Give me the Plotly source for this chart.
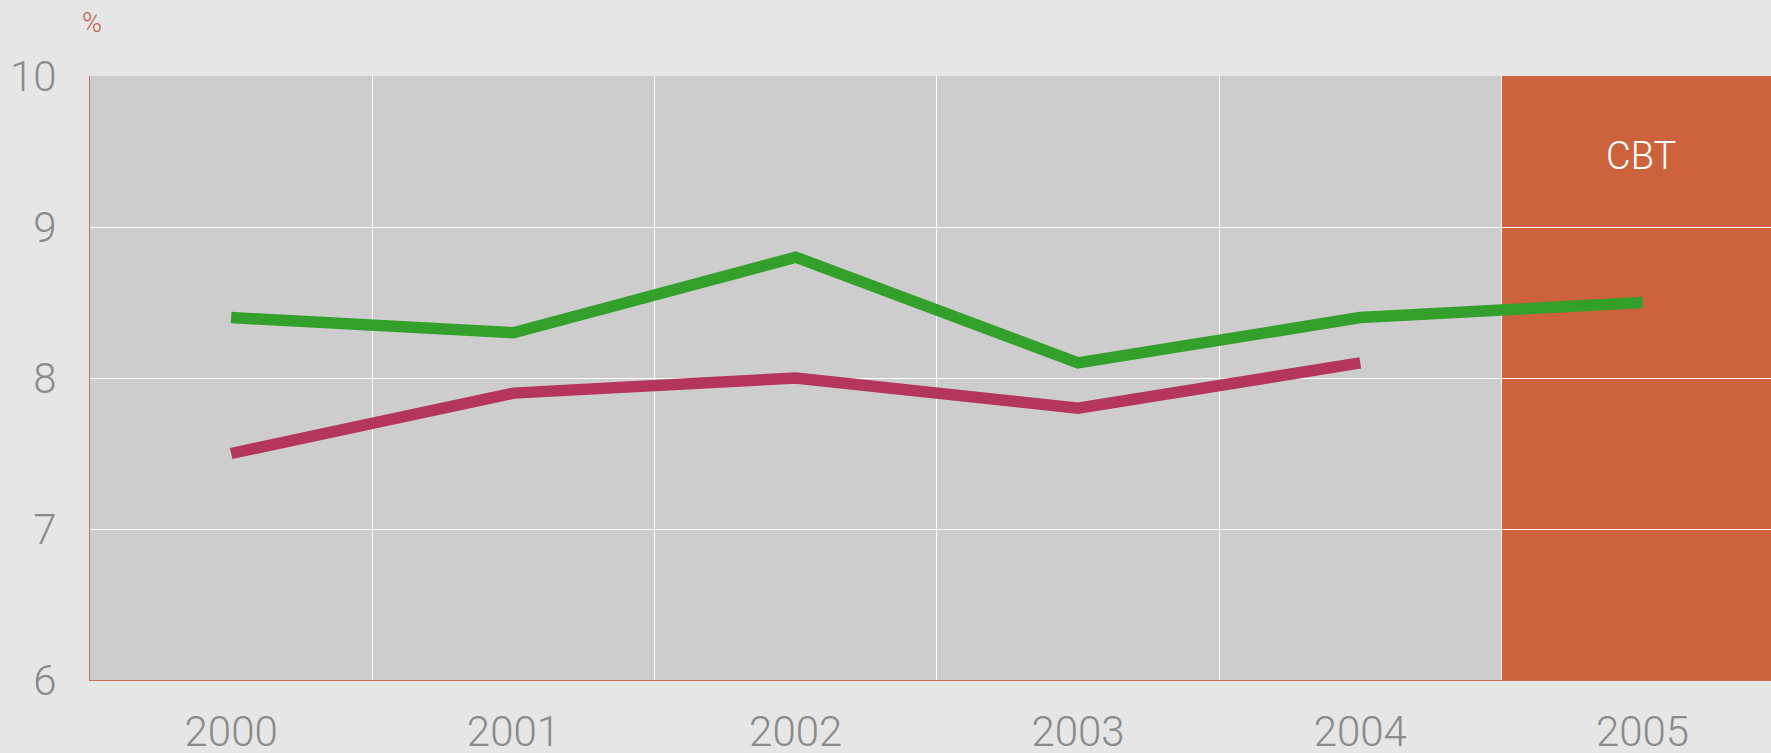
import plotly.graph_objects as go

years = ["2000", "2001", "2002", "2003", "2004", "2005"]
series_green = [8.4, 8.3, 8.8, 8.1, 8.4, 8.5]
series_red = [7.5, 7.9, 8.0, 7.8, 8.1, None]
y_ticks = [6, 7, 8, 9, 10]
band_label = "CBT"
unit_label = "%"

xpos = list(range(len(years)))

fig = go.Figure()
fig.add_trace(go.Scatter(x=xpos, y=series_red, mode="lines",
                         line=dict(color="rgb(181,54,92)", width=11.5),
                         showlegend=False, hoverinfo="skip"))
fig.add_trace(go.Scatter(x=xpos, y=series_green, mode="lines",
                         line=dict(color="rgb(52,160,44)", width=11.5),
                         showlegend=False, hoverinfo="skip"))

fig.add_shape(type="rect", xref="x", yref="paper", x0=4.5, x1=5.6, y0=0, y1=1,
              fillcolor="rgb(203,90,50)", opacity=0.93, line=dict(width=0),
              layer="between")

fig.add_annotation(x=5, y=9.47, xref="x", yref="y", text=band_label, showarrow=False,
                   xshift=-2, font=dict(family="Roboto", size=38, color="white", weight=300))
fig.add_annotation(xref="paper", yref="paper", x=(93 - 91) / 1680, y=1 + (76 - 23) / 604,
                   text=unit_label, showarrow=False, xanchor="center", yanchor="middle",
                   font=dict(family="Roboto", size=27, color="rgb(192,96,74)", weight=300))

fig.update_layout(
    width=1771, height=753,
    margin=dict(l=90, r=0, t=76, b=73),
    paper_bgcolor="#E6E6E6", plot_bgcolor="#CDCDCD",
    font=dict(family="Roboto", color="#8A8A8A", size=42, weight=300),
    xaxis=dict(range=[-0.5, 5.455], tickmode="array", tickvals=xpos, ticktext=years,
               showgrid=False, zeroline=False, showline=True, linecolor="rgb(200,112,90)",
               linewidth=1, ticks="", ticklabelstandoff=15, automargin=False,
               minor=dict(tickvals=[0.5, 1.5, 2.5, 3.5, 4.5], showgrid=True,
                          gridcolor="white", gridwidth=1, ticks="")),
    yaxis=dict(range=[6, 10], tickmode="array", tickvals=y_ticks,
               showgrid=True, gridcolor="white", gridwidth=1, zeroline=False,
               showline=True, linecolor="rgb(200,112,90)", linewidth=1,
               ticks="", ticklabelstandoff=24, automargin=False),
)

fig.write_html("out.html", config={"displayModeBar": False},
               post_script="document.body.style.margin='0';document.body.style.overflow='hidden';")
